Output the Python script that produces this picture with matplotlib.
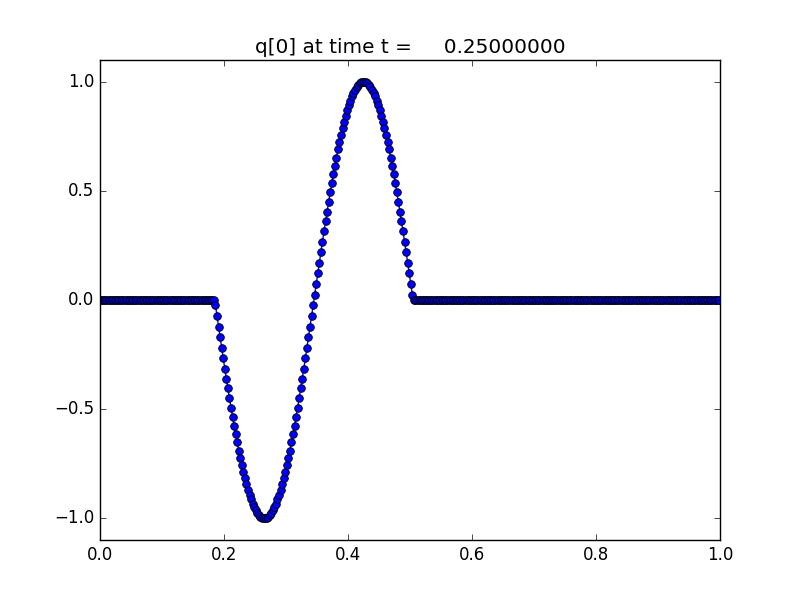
import matplotlib
matplotlib.use('Agg')
import matplotlib.pyplot as plt
import numpy as np

plt.style.use('classic')
plt.rcParams['figure.facecolor'] = 'white'
plt.rcParams['savefig.facecolor'] = 'white'

# grid: 400 cells on [0, 1], q given at cell centres
n_cells = 400
n_left = 74    # cells that stay at zero before the pulse
frame_time = 0.25

# nonzero part of q[0] (one value per cell)
q_pulse = [
    -0.025, -0.074, -0.122, -0.171, -0.219, -0.267, -0.314, -0.360,
    -0.405, -0.450, -0.493, -0.535, -0.576, -0.615, -0.653, -0.690,
    -0.724, -0.757, -0.788, -0.818, -0.845, -0.870, -0.893, -0.914,
    -0.933, -0.950, -0.964, -0.976, -0.985, -0.993, -0.997, -1.000,
    -1.000, -0.997, -0.993, -0.985, -0.976, -0.964, -0.950, -0.933,
    -0.914, -0.893, -0.870, -0.845, -0.818, -0.788, -0.757, -0.724,
    -0.690, -0.653, -0.615, -0.576, -0.535, -0.493, -0.450, -0.405,
    -0.360, -0.314, -0.267, -0.219, -0.171, -0.122, -0.074, -0.025,
    0.025, 0.074, 0.122, 0.171, 0.219, 0.267, 0.314, 0.360,
    0.405, 0.450, 0.493, 0.535, 0.576, 0.615, 0.653, 0.690,
    0.724, 0.757, 0.788, 0.818, 0.845, 0.870, 0.893, 0.914,
    0.933, 0.950, 0.964, 0.976, 0.985, 0.993, 0.997, 1.000,
    1.000, 0.997, 0.993, 0.985, 0.976, 0.964, 0.950, 0.933,
    0.914, 0.893, 0.870, 0.845, 0.818, 0.788, 0.757, 0.724,
    0.690, 0.653, 0.615, 0.576, 0.535, 0.493, 0.450, 0.405,
    0.360, 0.314, 0.267, 0.219, 0.171, 0.122, 0.074, 0.025,
]

x_ticks = [0.0, 0.2, 0.4, 0.6, 0.8, 1.0]
y_ticks = [-1.0, -0.5, 0.0, 0.5, 1.0]

# cell centres and full solution array
dx = 1.0 / n_cells
x = (np.arange(n_cells) + 0.5) * dx
q = np.zeros(n_cells)
q[n_left:n_left + len(q_pulse)] = q_pulse

fig = plt.figure(figsize=(8, 6), dpi=100)
ax = fig.add_subplot(111)
ax.plot(x, q, 'b-o', markersize=5.5, markeredgecolor='k',
        markeredgewidth=0.6, linewidth=1.0)
ax.set_xlim(0.0, 1.0)
ax.set_ylim(-1.1, 1.1)
ax.set_xticks(x_ticks)
ax.set_yticks(y_ticks)
ax.set_title('q[0] at time t = %14.8f' % frame_time)

fig.savefig('out.png', dpi=100)
